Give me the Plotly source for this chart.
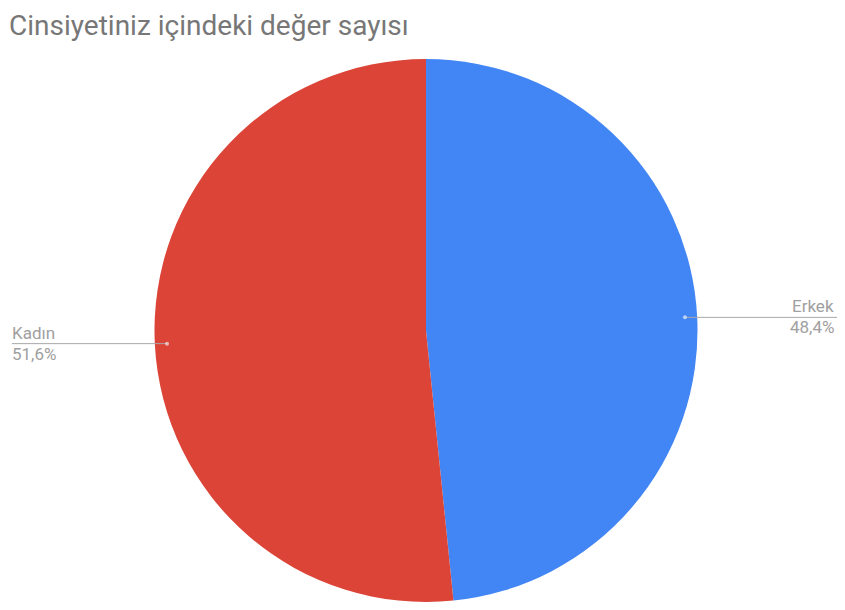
import math
import plotly.graph_objects as go

labels = ["Erkek", "Kadın"]
values = [15, 16]
colors = ["#4285F4", "#DB4437"]
title_text = "Cinsiyetiniz içindeki değer sayısı"

OFF = 8  # page body margin of the html page
W, H = 845 - 2 * OFF, 610 - 2 * OFF
R = 271.5
cx, cy = 426.0 - OFF, H - R  # pie centre in figure pixels

fig = go.Figure(go.Pie(
    labels=labels, values=values, sort=False, direction="clockwise", rotation=0,
    marker=dict(colors=colors, line=dict(width=0)),
    textinfo="none", hoverinfo="label+percent", showlegend=False,
    domain=dict(x=[(cx - R) / W, (cx + R) / W],
                y=[max(0.0, (H - cy - R) / H), min(1.0, (H - cy + R) / H)]),
))

total = sum(values)
shapes, annotations = [], []
cum = 0.0
lab_font = dict(family="Roboto", size=17, color="#A0A0A0")
for lab, v in zip(labels, values):
    mid = (cum + v / 2) / total * 2 * math.pi
    cum += v
    px = cx + 0.955 * R * math.sin(mid)
    py = cy - 0.955 * R * math.cos(mid)
    pct = f"{v / total * 100:.1f}".replace(".", ",") + "%"
    right = px > cx
    line_end = W if right else 4
    text_x = W - 1 if right else 2
    shapes.append(dict(type="line", xref="paper", yref="paper",
                       x0=px / W, x1=line_end / W, y0=1 - py / H, y1=1 - py / H,
                       line=dict(color="#A8A8A8", width=1)))
    shapes.append(dict(type="circle", xref="paper", yref="paper",
                       x0=(px - 2) / W, x1=(px + 2) / W, y0=1 - (py - 2) / H, y1=1 - (py + 2) / H,
                       fillcolor="rgba(255,255,255,0.6)", line=dict(width=0)))
    anchor = "right" if right else "left"
    annotations.append(dict(xref="paper", yref="paper", x=text_x / W, y=1 - (py + 1) / H,
                            text=lab, showarrow=False, xanchor=anchor, yanchor="bottom",
                            font=lab_font))
    annotations.append(dict(xref="paper", yref="paper", x=text_x / W, y=1 - (py - 2) / H,
                            text=pct, showarrow=False, xanchor=anchor, yanchor="top",
                            font=lab_font))

annotations.append(dict(xref="paper", yref="paper", x=0, y=1, text=title_text,
                        showarrow=False, xanchor="left", yanchor="top", borderpad=0,
                        font=dict(family="Roboto", size=28, color="#777777")))

fig.update_layout(width=W, height=H, margin=dict(l=0, r=0, t=0, b=0),
                  paper_bgcolor="white", plot_bgcolor="white",
                  shapes=shapes, annotations=annotations)
fig.write_html("out.html")
